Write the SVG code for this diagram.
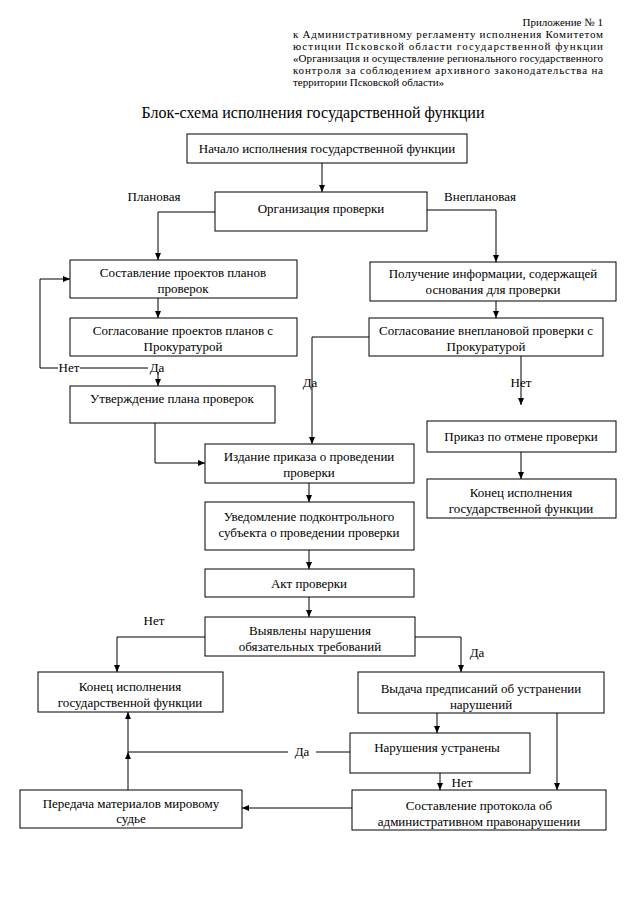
<svg xmlns="http://www.w3.org/2000/svg" width="640" height="905" viewBox="0 0 640 905">
<defs>
<marker id="arr" markerWidth="7" markerHeight="6" refX="7" refY="3" orient="auto" markerUnits="userSpaceOnUse">
<path d="M0,0 L7,3 L0,6 z" fill="#000"/>
</marker>
<style>
.box{fill:#fff;stroke:#000;stroke-width:1}
.t{font-family:"Liberation Serif","Times New Roman",serif;font-size:13px;text-anchor:middle;fill:#000}
.h{font-family:"Liberation Serif","Times New Roman",serif;font-size:11px;fill:#000}
.ln{fill:none;stroke:#000;stroke-width:1}
.a{marker-end:url(#arr)}
</style>
</defs>
<rect width="640" height="905" fill="#fff"/>
<g id="header">
<text class="h" x="603" y="26" text-anchor="end">Приложение № 1</text>
<text class="h" x="293" y="38" textLength="310" lengthAdjust="spacing">к Административному регламенту исполнения Комитетом</text>
<text class="h" x="293" y="50" textLength="310" lengthAdjust="spacing">юстиции Псковской области государственной функции</text>
<text class="h" x="293" y="62" textLength="310" lengthAdjust="spacing">«Организация и осуществление регионального государственного</text>
<text class="h" x="293" y="74" textLength="310" lengthAdjust="spacing">контроля за соблюдением архивного законодательства на</text>
<text class="h" x="293" y="86">территории Псковской области»</text>
</g>
<text id="title" x="313" y="118" style="font-family:'Liberation Serif',serif;font-size:16px;text-anchor:middle">Блок-схема исполнения государственной функции</text>

<g id="connectors">
<path class="ln a" d="M322,163 V192"/>
<path class="ln a" d="M215,212 H158 V260"/>
<path class="ln a" d="M427,210 H496 V262"/>
<path class="ln a" d="M158,298 V318"/>
<path class="ln" d="M80,368 H148"/>
<path class="ln a" d="M158,372 V386"/>
<path class="ln a" d="M58,368 H40 V279 H70"/>
<path class="ln a" d="M155,423 V463 H205"/>
<path class="ln a" d="M496,301 V318"/>
<path class="ln a" d="M369,337 H312 V444"/>
<path class="ln a" d="M521,356 V405"/>
<path class="ln a" d="M521,452 V479"/>
<path class="ln a" d="M309,483 V502"/>
<path class="ln a" d="M309,550 V569"/>
<path class="ln a" d="M309,597 V617"/>
<path class="ln a" d="M205,637 H117 V672"/>
<path class="ln a" d="M415,637 H461 V672"/>
<path class="ln a" d="M437,713 V733"/>
<path class="ln a" d="M557,713 V790"/>
<path class="ln a" d="M440,773 V790"/>
<path class="ln" d="M350,752 H316"/>
<path class="ln" d="M288,752 H128"/>
<path class="ln a" d="M128,752 V712"/>
<path class="ln a" d="M128,790 V752"/>
<path class="ln a" d="M352,808 H242"/>
</g>

<g id="labels">
<text class="t" x="154" y="201">Плановая</text>
<text class="t" x="480" y="201">Внеплановая</text>
<text class="t" x="69" y="372">Нет</text>
<text class="t" x="157" y="372">Да</text>
<text class="t" x="310" y="387">Да</text>
<text class="t" x="521" y="387">Нет</text>
<text class="t" x="154" y="625">Нет</text>
<text class="t" x="477" y="657">Да</text>
<text class="t" x="302" y="756">Да</text>
<text class="t" x="462" y="787">Нет</text>
</g>

<g id="n-start"><rect class="box" x="187" y="134" width="280" height="29"/><text class="t" x="327" y="152.5">Начало исполнения государственной функции</text></g>
<g id="n-org"><rect class="box" x="215" y="192" width="212" height="39"/><text class="t" x="321" y="212.5">Организация проверки</text></g>
<g id="n-sost"><rect class="box" x="70" y="260" width="227" height="38"/><text class="t" x="183" y="277">Составление проектов планов</text><text class="t" x="183" y="293">проверок</text></g>
<g id="n-sogl1"><rect class="box" x="70" y="318" width="227" height="38"/><text class="t" x="183" y="335">Согласование проектов планов с</text><text class="t" x="183" y="351">Прокуратурой</text></g>
<g id="n-utv"><rect class="box" x="70" y="386" width="205" height="37"/><text class="t" x="172" y="402.5">Утверждение плана проверок</text></g>
<g id="n-poluch"><rect class="box" x="370" y="262" width="246" height="39"/><text class="t" x="493" y="277.5">Получение информации, содержащей</text><text class="t" x="493" y="294">основания для проверки</text></g>
<g id="n-sogl2"><rect class="box" x="369" y="318" width="234" height="38"/><text class="t" x="486" y="335">Согласование внеплановой проверки с</text><text class="t" x="486" y="351">Прокуратурой</text></g>
<g id="n-prikaz"><rect class="box" x="427" y="421" width="189" height="31"/><text class="t" x="521" y="440.5">Приказ по отмене проверки</text></g>
<g id="n-end1"><rect class="box" x="427" y="479" width="189" height="39"/><text class="t" x="521" y="497">Конец исполнения</text><text class="t" x="521" y="513">государственной функции</text></g>
<g id="n-izd"><rect class="box" x="205" y="444" width="209" height="39"/><text class="t" x="309" y="460.5">Издание приказа о проведении</text><text class="t" x="309" y="477">проверки</text></g>
<g id="n-uved"><rect class="box" x="205" y="502" width="209" height="48"/><text class="t" x="309" y="520.5">Уведомление подконтрольного</text><text class="t" x="309" y="537">субъекта о проведении проверки</text></g>
<g id="n-akt"><rect class="box" x="205" y="569" width="209" height="28"/><text class="t" x="309" y="587.5">Акт проверки</text></g>
<g id="n-vyyavl"><rect class="box" x="205" y="617" width="210" height="39"/><text class="t" x="310" y="634.5">Выявлены нарушения</text><text class="t" x="310" y="651">обязательных требований</text></g>
<g id="n-end2"><rect class="box" x="38" y="672" width="185" height="40"/><text class="t" x="130" y="690.5">Конец исполнения</text><text class="t" x="130" y="707">государственной функции</text></g>
<g id="n-vydacha"><rect class="box" x="358" y="672" width="246" height="41"/><text class="t" x="481" y="693">Выдача предписаний об устранении</text><text class="t" x="481" y="708.5">нарушений</text></g>
<g id="n-ustr"><rect class="box" x="350" y="733" width="180" height="40"/><text class="t" x="437" y="751.5">Нарушения устранены</text></g>
<g id="n-pered"><rect class="box" x="20" y="790" width="222" height="38"/><text class="t" x="131" y="807.5">Передача материалов мировому</text><text class="t" x="131" y="822.5">судье</text></g>
<g id="n-protokol"><rect class="box" x="352" y="790" width="254" height="40"/><text class="t" x="479" y="809.5">Составление протокола об</text><text class="t" x="479" y="826">административном правонарушении</text></g>
</svg>
